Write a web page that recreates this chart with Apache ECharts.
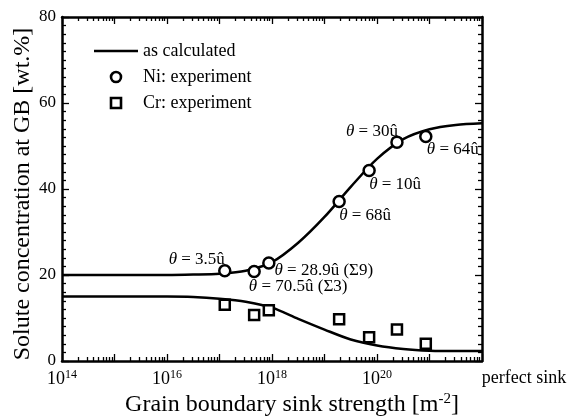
<!DOCTYPE html>
<html><head><meta charset="utf-8">
<script src="https://cdn.jsdelivr.net/npm/echarts@6/dist/echarts.min.js"></script>
<style>html,body{margin:0;padding:0;background:#fff}#c{width:569px;height:416px}</style>
</head><body><div id="c"></div>
<script>
// Experimental points (grain boundary sink strength, m^-2)
const sinkStrength = [1.26e17, 4.57e17, 8.7e17, 1.9e19, 7.08e19, 2.4e20, 8.5e20];
const niExperiment = [21.0, 20.8, 22.8, 37.1, 44.3, 50.9, 52.2];
const crExperiment = [13.1, 10.7, 11.8, 9.7, 5.5, 7.3, 4.0];
const angleLabels = ['3.5û', '70.5û (Σ3)', '28.9û (Σ9)', '68û', '10û', '30û', '64û'];
// Calculated curves
const calcSink = [1e14, 1e15, 1e16, 3.16e16, 1e17, 3.16e17, 1e18, 3.16e18, 1e19, 3.16e19, 1e20, 3.16e20, 1e21, 3.16e21, 1e22];
const niCalculated = [20.0, 20.0, 20.0, 20.1, 20.3, 21.0, 23.0, 27.5, 33.5, 40.5, 47.0, 51.6, 53.9, 54.9, 55.3];
const crCalculated = [15.0, 15.0, 15.0, 14.9, 14.5, 13.8, 12.4, 9.8, 7.3, 5.0, 3.6, 2.8, 2.4, 2.3, 2.3];
// Tick labels
const xLabelExponents = [14, 16, 18, 20, 22];
const xMajorExponents = [14, 15, 16, 17, 18, 19, 20, 21, 22];
const lastLabel = 'perfect sink';
const yTicks = [0, 20, 40, 60, 80];

// styling (not data)
const labelOffsets = [[-28, -11], [44, 15], [55, 8], [26, 14], [26, 14], [-25, -11], [27, 13]];
const FONT = 'Liberation Serif';

const xMinorExponents = [];
for (let d = 14; d < 22; d++) for (let k = 2; k <= 9; k++) xMinorExponents.push(d + Math.log10(k));

const pairs = (xs, ys) => xs.map((x, i) => [x, ys[i]]);

const axisLineStyle = { color: '#000', width: 2.5 };
const tickAxis = (pos, vals, len, withLabels) => ({
  type: 'value', min: 14, max: 22, position: pos,
  axisLine: { show: false },
  axisTick: { show: true, inside: true, length: len, customValues: vals, lineStyle: { color: '#000', width: 1.3 } },
  axisLabel: withLabels ? {
    show: true, customValues: xLabelExponents, margin: 8, color: '#000', fontFamily: FONT, fontSize: 18,
    formatter: v => v === 22 ? '{p|' + lastLabel + '}' : '{b|10}{s|' + v + '}',
    rich: {
      b: { fontSize: 18, fontFamily: FONT, color: '#000' },
      s: { fontSize: 12, fontFamily: FONT, color: '#000', padding: [0, 0, 9, 0] },
      p: { fontSize: 18, fontFamily: FONT, color: '#000', padding: [0, 0, 0, 84] }
    }
  } : { show: false },
  splitLine: { show: false }
});

const option = {
  animation: false,
  backgroundColor: '#fff',
  grid: { left: 62, right: 87, top: 17, bottom: 55, outerBoundsMode: 'none', containLabel: false },
  legend: {
    orient: 'vertical', left: 89, top: 37, itemWidth: 44, itemHeight: 10, itemGap: 8,
    textStyle: { fontFamily: FONT, fontSize: 18, color: '#000' },
    data: [
      { name: 'as calculated', icon: 'path://M0,0L42,0L42,2.5L0,2.5Z', itemStyle: { color: '#000', borderWidth: 0, opacity: 1 } },
      { name: 'Ni: experiment', icon: 'circle', itemStyle: { color: '#fff', borderColor: '#000', borderWidth: 2.6, opacity: 1 } },
      { name: 'Cr: experiment', icon: 'path://M0,0L10,0L10,10L0,10Z', itemStyle: { color: '#fff', borderColor: '#000', borderWidth: 2.6, opacity: 1 } }
    ]
  },
  xAxis: [
    {
      type: 'log', logBase: 10, min: 1e14, max: 1e22, position: 'bottom',
      axisLine: { show: true, lineStyle: axisLineStyle, onZero: false },
      axisTick: { show: false }, axisLabel: { show: false }, splitLine: { show: false },
      name: '{t|Grain boundary sink strength [m}{s|-2}{t|]}', nameLocation: 'middle', nameGap: 31,
      nameMoveOverlap: false,
      nameTextStyle: {
        padding: [0, 0, 0, 40],
        rich: {
          t: { fontFamily: FONT, fontSize: 24, color: '#000' },
          s: { fontFamily: FONT, fontSize: 15, color: '#000', padding: [0, 0, 10, 0] }
        }
      }
    },
    {
      type: 'log', logBase: 10, min: 1e14, max: 1e22, position: 'top',
      axisLine: { show: true, lineStyle: axisLineStyle, onZero: false },
      axisTick: { show: false }, axisLabel: { show: false }, splitLine: { show: false }
    },
    tickAxis('bottom', xMajorExponents, 7, true),
    tickAxis('bottom', xMinorExponents, 4, false),
    tickAxis('top', xMajorExponents, 7, false),
    tickAxis('top', xMinorExponents, 4, false)
  ],
  yAxis: [
    {
      type: 'value', min: 0, max: 80, interval: 20, position: 'left',
      axisLine: { show: true, lineStyle: axisLineStyle, onZero: false },
      axisTick: { show: true, inside: true, length: 7, lineStyle: { color: '#000', width: 1.3 } },
      minorTick: { show: true, splitNumber: 10, length: 4, lineStyle: { color: '#000', width: 1.3 } },
      axisLabel: { color: '#000', fontFamily: FONT, fontSize: 17, margin: 6, customValues: yTicks },
      splitLine: { show: false },
      name: 'Solute concentration at GB [wt.%]', nameLocation: 'middle', nameGap: 27, nameRotate: 90,
      nameMoveOverlap: false,
      nameTextStyle: { fontFamily: FONT, fontSize: 24, color: '#000', padding: [0, 10, 0, 0] }
    },
    {
      type: 'value', min: 0, max: 80, interval: 20, position: 'right',
      axisLine: { show: true, lineStyle: axisLineStyle, onZero: false },
      axisTick: { show: true, inside: true, length: 7, lineStyle: { color: '#000', width: 1.3 } },
      minorTick: { show: true, splitNumber: 10, length: 4, lineStyle: { color: '#000', width: 1.3 } },
      axisLabel: { show: false }, splitLine: { show: false }
    }
  ],
  series: [
    {
      name: 'as calculated', type: 'line', xAxisIndex: 0, yAxisIndex: 0,
      data: pairs(calcSink, niCalculated), smooth: 0.3, symbol: 'none', showSymbol: false,
      lineStyle: { color: '#000', width: 2.5 }, itemStyle: { color: '#000' }, z: 2
    },
    {
      name: 'as calculated', type: 'line', xAxisIndex: 0, yAxisIndex: 0,
      data: pairs(calcSink, crCalculated), smooth: 0.3, symbol: 'none', showSymbol: false,
      lineStyle: { color: '#000', width: 2.5 }, itemStyle: { color: '#000' }, z: 2
    },
    {
      name: 'Ni: experiment', type: 'scatter', xAxisIndex: 0, yAxisIndex: 0,
      symbol: 'circle', symbolSize: 11,
      itemStyle: { color: '#fff', borderColor: '#000', borderWidth: 2.5, opacity: 1 },
      data: sinkStrength.map((x, i) => ({
        value: [x, niExperiment[i]],
        label: {
          show: true, position: 'inside', offset: labelOffsets[i], color: '#000',
          fontFamily: FONT, fontSize: 17,
          formatter: '{t|θ} = ' + angleLabels[i],
          rich: { t: { fontStyle: 'italic', fontFamily: FONT, fontSize: 17, color: '#000' } }
        }
      })),
      z: 4
    },
    {
      name: 'Cr: experiment', type: 'scatter', xAxisIndex: 0, yAxisIndex: 0,
      symbol: 'rect', symbolSize: 10,
      itemStyle: { color: '#fff', borderColor: '#000', borderWidth: 2.5, opacity: 1 },
      data: pairs(sinkStrength, crExperiment), z: 4
    }
  ]
};
const chart = echarts.init(document.getElementById('c'), null, { renderer: 'canvas' });
chart.setOption(option);
</script></body></html>
